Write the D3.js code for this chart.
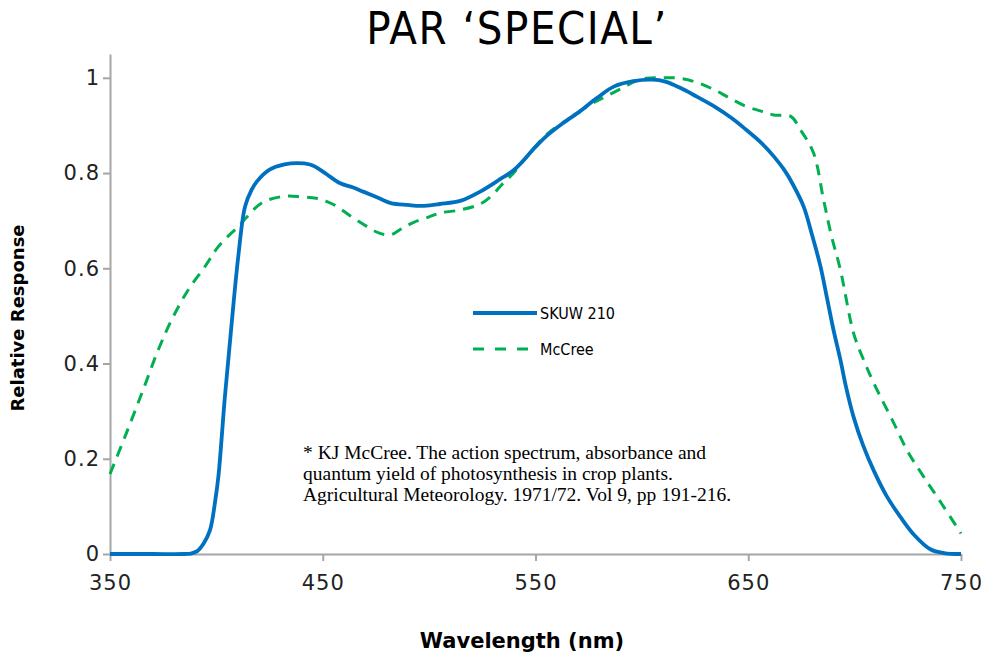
<!DOCTYPE html>
<html>
<head>
<meta charset="utf-8">
<script src="https://cdn.jsdelivr.net/npm/d3@7"></script>
<style>
    body { margin: 0; background: #fff; }
    svg { display: block; }
</style>
</head>
<body>
<div id="chart"></div>
<script>
// SKUW 210 sensor response
const skuwWavelength = [350, 370, 385, 388, 391, 394, 397, 399.4, 401, 404, 407.2, 410.3, 413.5, 416.6, 419, 425, 432, 438, 444, 447, 452, 458, 464, 469, 476, 482, 490, 496, 505, 515, 524, 533, 540, 550, 555, 563, 571, 579, 587, 596, 605, 611, 618, 626, 634, 642, 649, 656, 662, 667, 671, 676, 680, 684, 687, 690, 693.3, 696, 699.5, 704, 709, 715, 721.5, 728, 735.6, 742, 750];
const skuwResponse = [0, 0, 0, 0.001, 0.006, 0.022, 0.05, 0.11, 0.165, 0.33, 0.485, 0.625, 0.73, 0.765, 0.782, 0.807, 0.818, 0.821, 0.818, 0.812, 0.797, 0.779, 0.77, 0.761, 0.748, 0.737, 0.733, 0.731, 0.735, 0.742, 0.761, 0.786, 0.807, 0.855, 0.877, 0.905, 0.93, 0.958, 0.982, 0.993, 0.996, 0.992, 0.979, 0.96, 0.94, 0.916, 0.891, 0.864, 0.835, 0.806, 0.776, 0.73, 0.67, 0.603, 0.538, 0.472, 0.408, 0.35, 0.288, 0.228, 0.175, 0.122, 0.078, 0.04, 0.01, 0.002, 0];

// McCree action spectrum
const mccreeWavelength = [350, 357, 365, 372.7, 379, 386.8, 394.7, 401, 410.3, 421.3, 431.5, 440, 447, 452, 456.6, 463, 470.7, 476, 481.7, 487, 493, 500, 505, 514, 524, 530, 534, 539.7, 547, 555, 566, 577, 584, 591, 597, 602, 610, 618, 626, 634, 641, 649, 656, 662, 670, 674.5, 680.7, 685.4, 689, 693.3, 699.5, 704, 709, 718.4, 725, 732.5, 741, 750];
const mccreeResponse = [0.168, 0.246, 0.338, 0.429, 0.492, 0.555, 0.604, 0.646, 0.688, 0.737, 0.751, 0.75, 0.747, 0.74, 0.73, 0.71, 0.688, 0.675, 0.67, 0.683, 0.697, 0.708, 0.716, 0.722, 0.735, 0.755, 0.775, 0.8, 0.84, 0.88, 0.915, 0.947, 0.963, 0.979, 0.993, 0.999, 1.0, 0.999, 0.99, 0.975, 0.958, 0.94, 0.93, 0.922, 0.919, 0.891, 0.842, 0.744, 0.67, 0.597, 0.464, 0.41, 0.359, 0.275, 0.215, 0.162, 0.105, 0.043];

const xTicks = [350, 450, 550, 650, 750];
const yTicks = [0, 0.2, 0.4, 0.6, 0.8, 1];
const seriesNames = ["SKUW 210", "McCree"];
const noteLines = [
    "* KJ McCree. The action spectrum, absorbance and",
    "quantum yield of photosynthesis in crop plants.",
    "Agricultural Meteorology. 1971/72. Vol 9, pp 191-216."
];

const width = 981,
    height = 657,
    margin = { top: 54, right: 20, bottom: 103, left: 110 };

const blue = "#0070c0",
    green = "#00b050",
    axisGrey = "#a6a6a6";

const svg = d3
    .select("#chart")
    .append("svg")
    .attr("width", width)
    .attr("height", height);

const x = d3
    .scaleLinear()
    .domain([350, 750])
    .range([margin.left, width - margin.right]);

const y = d3
    .scaleLinear()
    .domain([0, 1.05])
    .range([height - margin.bottom, margin.top]);

// axes
const xAxis = svg
    .append("g")
    .attr("transform", `translate(0,${height - margin.bottom})`)
    .call(d3.axisBottom(x).tickValues(xTicks).tickSize(7).tickSizeOuter(0));

const yAxis = svg
    .append("g")
    .attr("transform", `translate(${margin.left},0)`)
    .call(
        d3.axisLeft(y)
            .tickValues(yTicks)
            .tickSize(7)
            .tickSizeOuter(0)
            .tickFormat((d) => String(+d.toFixed(1)))
    );

for (let g of [xAxis, yAxis]) {
    g.select(".domain").attr("stroke", axisGrey).attr("stroke-width", 2);
    g.selectAll(".tick line").attr("stroke", axisGrey).attr("stroke-width", 2);
    g.selectAll(".tick text")
        .attr("fill", "#222")
        .style("font-family", "DejaVu Sans, Verdana, sans-serif")
        .style("font-size", "21px")
        .style("letter-spacing", "1px");
}
xAxis.selectAll(".tick text").attr("y", 21);

// lines
const line = d3
    .line()
    .x((d) => x(d[0]))
    .y((d) => y(d[1]))
    .curve(d3.curveCatmullRom.alpha(0.5));

const mccree = mccreeWavelength.map((w, i) => [w, mccreeResponse[i]]);
const skuw = skuwWavelength.map((w, i) => [w, skuwResponse[i]]);

svg.append("path")
    .datum(mccree)
    .attr("d", line)
    .attr("fill", "none")
    .attr("stroke", green)
    .attr("stroke-width", 3)
    .attr("stroke-dasharray", "11,8");

svg.append("path")
    .datum(skuw)
    .attr("d", line)
    .attr("fill", "none")
    .attr("stroke", blue)
    .attr("stroke-width", 3.8)
    .attr("stroke-linejoin", "round");

// title + axis labels
svg.append("text")
    .attr("x", 517)
    .attr("y", 44)
    .attr("text-anchor", "middle")
    .style("font-family", "DejaVu Sans Condensed, sans-serif")
    .style("font-size", "45px")
    .style("letter-spacing", "1.5px")
    .text("PAR \u2018SPECIAL\u2019");

svg.append("text")
    .attr("x", 522)
    .attr("y", 648)
    .attr("text-anchor", "middle")
    .style("font-family", "DejaVu Sans, sans-serif")
    .style("font-weight", "bold")
    .style("font-size", "21px")
    .text("Wavelength (nm)");

svg.append("text")
    .attr("transform", "translate(24,318) rotate(-90)")
    .attr("text-anchor", "middle")
    .style("font-family", "DejaVu Sans, sans-serif")
    .style("font-weight", "bold")
    .style("font-size", "18px")
    .text("Relative Response");

// legend
const legend = svg.append("g").attr("transform", "translate(473,313)");
legend.selectAll("line")
    .data(seriesNames)
    .join("line")
    .attr("x1", 0)
    .attr("x2", 64)
    .attr("y1", (d, i) => i * 36)
    .attr("y2", (d, i) => i * 36)
    .attr("stroke", (d, i) => (i === 0 ? blue : green))
    .attr("stroke-width", (d, i) => (i === 0 ? 3.8 : 3))
    .attr("stroke-dasharray", (d, i) => (i === 0 ? null : "11,11"));
legend.selectAll("text")
    .data(seriesNames)
    .join("text")
    .attr("x", 67)
    .attr("y", (d, i) => i * 36 + 6)
    .style("font-family", "DejaVu Sans Condensed, sans-serif")
    .style("font-size", "16px")
    .text((d) => d);

// reference note
svg.append("g")
    .selectAll("text")
    .data(noteLines)
    .join("text")
    .attr("x", 303)
    .attr("y", (d, i) => 459 + i * 21)
    .style("font-family", "Liberation Serif, serif")
    .style("font-size", "19.5px")
    .text((d) => d);
</script>
</body>
</html>
